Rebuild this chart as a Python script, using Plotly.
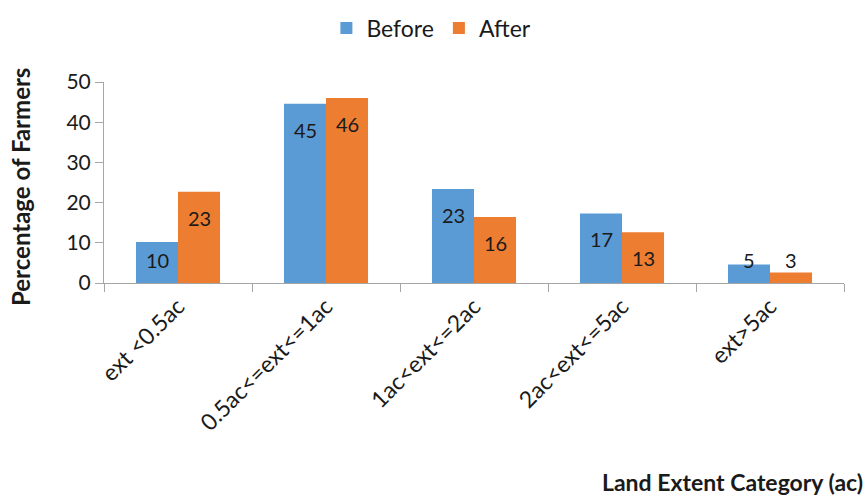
import plotly.graph_objects as go

# Share of farmers (%) in each land-extent class, before and after
categories = ["ext <0.5ac", "0.5ac<=ext<=1ac", "1ac<ext<=2ac", "2ac<ext<=5ac", "ext>5ac"]
before = [10.2, 44.6, 23.4, 17.3, 4.6]
after = [22.7, 46.0, 16.4, 12.6, 2.6]
y_ticks = [0, 10, 20, 30, 40, 50]

BLUE = "#5B9BD5"
ORANGE = "#ED7D31"
TEXT = "#1a1a1a"
AXIS = "#a6a6a6"
FONT = "Lato"

W, H = 868, 498
M_L, M_R, M_T, M_B = 104, 24, 82, 215
Y_MAX = 50
px_per_unit = (H - M_T - M_B) / Y_MAX
bar_px = 42  # width of one bar in pixels

fig = go.Figure()
fig.add_trace(go.Bar(name="Before", x=categories, y=before, marker_color=BLUE,
                     marker_line_width=0, hoverinfo="skip"))
fig.add_trace(go.Bar(name="After", x=categories, y=after, marker_color=ORANGE,
                     marker_line_width=0, hoverinfo="skip"))

# Value labels sit just inside the bar top, but never lower than a minimum
# height above the baseline (so short bars get their label floated above).
annotations = []
for values, shift in ((before, -bar_px / 2), (after, bar_px / 2)):
    for cat, v in zip(categories, values):
        h = v * px_per_unit
        centre_px = max(h - 26, 23)
        annotations.append(dict(
            x=cat, y=centre_px / px_per_unit, xref="x", yref="y", xshift=shift,
            text=f"{v:.0f}", showarrow=False, yanchor="middle", xanchor="center",
            font=dict(family=FONT, size=20, color=TEXT)))

title_font = dict(family=FONT, size=24, color=TEXT)
annotations.append(dict(
    x=20, y=187, text="<b>Percentage of Farmers</b>", showarrow=False,
    textangle=-90, xanchor="center", yanchor="middle", font=title_font))
annotations.append(dict(
    x=865, y=482, text="<b>Land Extent Category (ac)</b>", showarrow=False,
    xanchor="right", yanchor="middle", font=dict(family=FONT, size=23, color=TEXT)))

# convert pixel-based title positions into paper coordinates
for a in annotations[-2:]:
    a["xref"], a["yref"] = "paper", "paper"
    a["x"] = (a["x"] - M_L) / (W - M_L - M_R)
    a["y"] = 1 - (a["y"] - M_T) / (H - M_T - M_B)

fig.update_layout(
    width=W, height=H,
    margin=dict(l=M_L, r=M_R, t=M_T, b=M_B),
    paper_bgcolor="white", plot_bgcolor="white",
    barmode="group", bargap=0.432, bargroupgap=0,
    font=dict(family=FONT, size=20, color=TEXT),
    showlegend=True,
    legend=dict(orientation="h", x=0.497, xref="container", xanchor="center",
                y=1 - 28 / H, yref="container", yanchor="middle",
                font=dict(family=FONT, size=23, color=TEXT),
                itemwidth=30, traceorder="normal"),
    annotations=annotations,
    xaxis=dict(
        tickangle=-45, showline=True, linecolor=AXIS, linewidth=1,
        ticks="outside", tickson="boundaries", ticklen=8, tickcolor=AXIS,
        tickfont=dict(family=FONT, size=23, color=TEXT),
        showgrid=False, zeroline=False),
    yaxis=dict(
        range=[0, Y_MAX], tickvals=y_ticks, showline=True, linecolor=AXIS,
        linewidth=1, ticks="outside", ticklen=8, tickcolor=AXIS,
        tickfont=dict(family=FONT, size=21, color=TEXT),
        showgrid=False, zeroline=False),
)

fig.write_html("out.html")
